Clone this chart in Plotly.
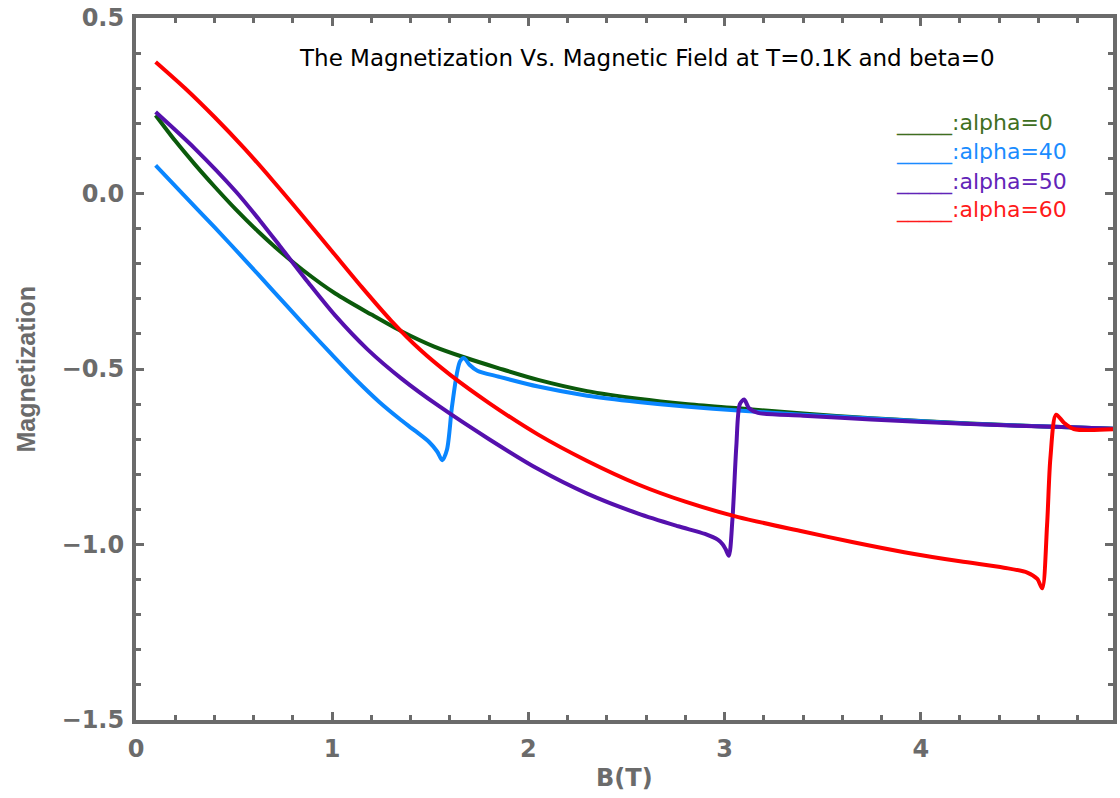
import plotly.graph_objects as go

# ---- data ----
x_a0 = [0.1, 0.2, 0.3, 0.4, 0.51, 0.62, 0.71, 0.85, 1.016, 1.2, 1.355, 1.52, 1.68, 1.85, 2.05, 2.3, 2.56, 2.8, 3.07, 3.4, 3.75, 4.0, 4.25, 4.5, 4.76, 4.98]
y_a0 = [0.223, 0.150, 0.083, 0.020, -0.046, -0.107, -0.153, -0.218, -0.285, -0.345, -0.393, -0.436, -0.468, -0.498, -0.531, -0.563, -0.585, -0.600, -0.612, -0.627, -0.640, -0.648, -0.655, -0.661, -0.666, -0.670]

x_a40 = [0.1, 0.25, 0.4, 0.55, 0.7, 0.85, 1.0, 1.12, 1.24, 1.341, 1.42, 1.494, 1.535, 1.561, 1.585, 1.61, 1.635, 1.652, 1.672, 1.70, 1.74, 1.85, 2.05, 2.3, 2.56, 2.8, 3.07, 3.4, 3.75, 4.25, 4.76, 4.98]
y_a40 = [0.080, -0.008, -0.096, -0.186, -0.278, -0.370, -0.460, -0.530, -0.594, -0.641, -0.675, -0.708, -0.735, -0.760, -0.730, -0.610, -0.515, -0.478, -0.469, -0.488, -0.505, -0.522, -0.550, -0.576, -0.594, -0.607, -0.618, -0.630, -0.641, -0.656, -0.666, -0.670]

x_a50 = [0.1, 0.3, 0.51, 0.63, 0.745, 0.88, 1.016, 1.18, 1.355, 1.545, 1.8, 2.05, 2.3, 2.56, 2.764, 2.90, 2.967, 2.99, 3.005, 3.022, 3.04, 3.06, 3.078, 3.10, 3.125, 3.17, 3.4, 3.747, 4.255, 4.763, 4.98]
y_a50 = [0.232, 0.128, 0.005, -0.076, -0.158, -0.255, -0.348, -0.444, -0.528, -0.606, -0.700, -0.785, -0.855, -0.912, -0.948, -0.970, -0.987, -0.999, -1.013, -1.032, -0.930, -0.720, -0.600, -0.587, -0.612, -0.625, -0.633, -0.644, -0.657, -0.666, -0.670]

x_a60 = [0.1, 0.25, 0.4, 0.55, 0.7, 0.85, 1.0, 1.15, 1.3, 1.45, 1.6, 1.8, 2.05, 2.3, 2.56, 2.8, 3.07, 3.4, 3.65, 3.916, 4.2, 4.424, 4.543, 4.594, 4.619, 4.644, 4.661, 4.69, 4.73, 4.78, 4.98]
y_a60 = [0.375, 0.300, 0.218, 0.130, 0.035, -0.064, -0.165, -0.266, -0.362, -0.446, -0.516, -0.597, -0.687, -0.762, -0.829, -0.878, -0.922, -0.963, -0.993, -1.022, -1.048, -1.066, -1.080, -1.098, -1.125, -0.944, -0.753, -0.630, -0.653, -0.671, -0.672]

series = [
    ("alpha=0", x_a0, y_a0, "#0b5a0b", "#3f6f1f"),
    ("alpha=40", x_a40, y_a40, "#0a86ff", "#1a8cff"),
    ("alpha=50", x_a50, y_a50, "#5510ad", "#6224b8"),
    ("alpha=60", x_a60, y_a60, "#ff0000", "#ff1a1a"),
]

title_text = "The Magnetization Vs. Magnetic Field at T=0.1K and beta=0"
x_ticks = [0, 1, 2, 3, 4]
y_ticks = [0.5, 0.0, -0.5, -1.0, -1.5]

fig = go.Figure()
for name, xs, ys, col, _ in series:
    fig.add_trace(go.Scatter(x=xs, y=ys, mode="lines", name=name,
                             line=dict(color=col, width=4, shape="spline", smoothing=0.8)))

axis_gray = "#6b6b6b"
fig.update_layout(
    width=1120, height=798,
    margin=dict(l=136, r=3, t=18, b=78),
    paper_bgcolor="white", plot_bgcolor="white",
    showlegend=False,
    font=dict(family="DejaVu Sans", color=axis_gray),
)
fig.update_xaxes(
    range=[0, 4.98], showgrid=False, zeroline=False,
    showline=True, linewidth=4, linecolor=axis_gray, mirror="ticks",
    ticks="inside", ticklen=8, tickwidth=3, tickcolor=axis_gray,
    tickvals=x_ticks, ticktext=[str(v) for v in x_ticks],
    tickfont=dict(family="DejaVu Sans", size=24, color=axis_gray, weight="bold"),
    minor=dict(ticks="inside", dtick=0.2, ticklen=5, tickwidth=3, tickcolor=axis_gray),
    ticklabelstandoff=4,
)
fig.update_yaxes(
    range=[-1.5, 0.5], showgrid=False, zeroline=False,
    showline=True, linewidth=4, linecolor=axis_gray, mirror="ticks",
    ticks="inside", ticklen=8, tickwidth=3, tickcolor=axis_gray,
    tickvals=y_ticks, ticktext=["0.5", "0.0", "\u22120.5", "\u22121.0", "\u22121.5"],
    tickfont=dict(family="DejaVu Sans", size=24, color=axis_gray, weight="bold"),
    minor=dict(ticks="inside", dtick=0.1, ticklen=5, tickwidth=3, tickcolor=axis_gray),
    ticklabelstandoff=3,
)

# axis titles
fig.add_annotation(text="Magnetization", xref="paper", yref="paper", x=-0.113, y=0.5,
                   textangle=-90, showarrow=False, xanchor="center", yanchor="middle",
                   font=dict(family="Liberation Sans Narrow, Liberation Sans", size=25, color=axis_gray, weight="bold"))
fig.add_annotation(text="B(T)", xref="paper", yref="paper", x=0.5, y=-0.082,
                   showarrow=False, xanchor="center", yanchor="middle",
                   font=dict(family="DejaVu Sans", size=24, color=axis_gray, weight="bold"))

# title
fig.add_annotation(text=title_text, xref="paper", yref="paper", x=0.523, y=0.943,
                   showarrow=False, xanchor="center", yanchor="middle",
                   font=dict(family="DejaVu Sans", size=23, color="black"))

# legend text
leg_y = [0.850, 0.809, 0.766, 0.726]
for (name, _, _, _, tcol), yy in zip(series, leg_y):
    fig.add_annotation(text="_____:" + name, xref="paper", yref="paper", x=0.7757, y=yy,
                       showarrow=False, xanchor="left", yanchor="middle",
                       font=dict(family="DejaVu Sans", size=22, color=tcol))

fig.write_html("out.html")
